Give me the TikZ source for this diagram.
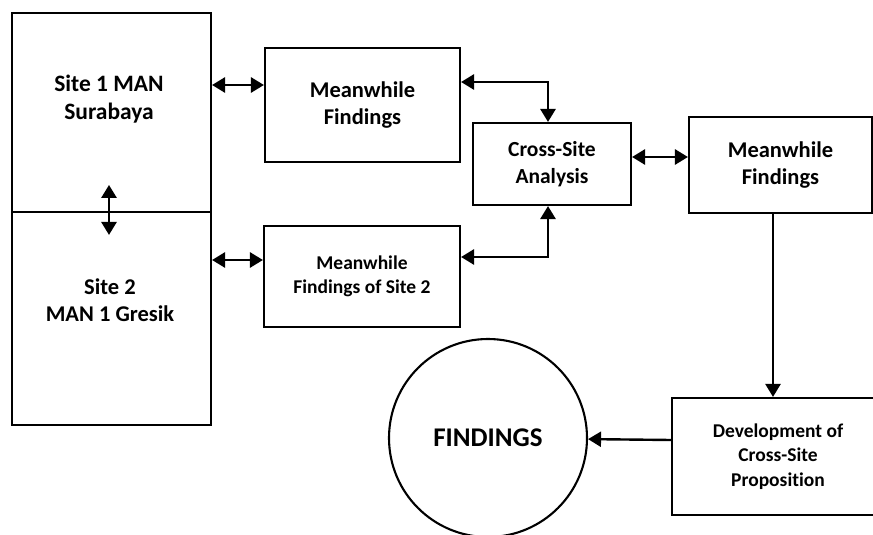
\documentclass[tikz,border=0pt]{standalone}
\usepackage{fontspec}
\setmainfont{Carlito}[Ligatures=NoCommon]
\usetikzlibrary{arrows.meta,calc}
\begin{document}
\begin{tikzpicture}[x=1pt,y=-1pt,
  box/.style={draw, line width=2.1pt, rectangle, inner sep=0pt, align=center},
  fbig/.style={font=\bfseries\fontsize{22.5}{27}\selectfont},
  fmid/.style={font=\bfseries\fontsize{21.5}{26.5}\selectfont},
  fsmall/.style={font=\bfseries\fontsize{19.5}{24.5}\selectfont},
  lbl/.style={align=center, inner sep=0pt},
  dbl/.style={line width=2.8pt, {Triangle[length=13pt,width=15pt]}-{Triangle[length=13pt,width=15pt]}},
  one/.style={line width=2.4pt, -{Triangle[length=13pt,width=15pt]}}]
\useasboundingbox (0,0) rectangle (873,535);
\clip (0,0) rectangle (873,535);
\fill[white] (0,0) rectangle (873,535);

\node[box, minimum width=199pt, minimum height=199pt] (site1) at (111.5,112.5) {};
\node[box, minimum width=199pt, minimum height=213pt] (site2) at (111.5,318.5) {};
\node[lbl, font=\bfseries\fontsize{23.5}{27.5}\selectfont] (t1) at (109,99) {Site 1 MAN\\Surabaya};
\node[lbl, fbig] (t2) at (110,300) {Site 2\\MAN 1 Gresik};

\node[box, fbig, minimum width=195pt, minimum height=114pt] (mf1) at (362.5,105) {Meanwhile\\Findings};
\node[box, fsmall, minimum width=196pt, minimum height=101pt] (mf2) at (362,276.5) {Meanwhile\\Findings of Site 2};
\node[box, fmid, minimum width=158pt, minimum height=82pt] (csa) at (552,164) {Cross-Site\\Analysis};
\node[box, fbig, minimum width=183pt, minimum height=96pt] (mf3) at (780.5,165) {Meanwhile\\Findings};
\node[box, fsmall, minimum width=212pt, minimum height=117pt] (dev) at (778,456.5) {Development of\\Cross-Site\\Proposition};
\node[draw, circle, line width=2.1pt, minimum size=198pt, inner sep=0pt,
      font=\bfseries\fontsize{27}{32}\selectfont] (fin) at (488,438) {FINDINGS};

\coordinate (a1) at ([yshift=20pt]mf1.west);
\draw[dbl] (site1.east |- a1) -- (a1);
\draw[dbl] ([xshift=-2.5pt,yshift=26pt]site2.north) -- ([xshift=-2.5pt,yshift=-24pt]site2.north);
\coordinate (a2) at ([yshift=16.5pt]mf2.west);
\draw[dbl] (site2.east |- a2) -- (a2);
\coordinate (a3) at ([yshift=23pt]mf1.east);
\draw[dbl] (a3) -| ([xshift=-4pt]csa.north);
\coordinate (a4) at ([yshift=19.5pt]mf2.east);
\draw[dbl] ([xshift=-4pt]csa.south) |- (a4);
\coordinate (a5) at ([yshift=7pt]csa.east);
\draw[dbl] (a5) -- (mf3.west |- a5);
\coordinate (a6) at ([xshift=-5pt]dev.north);
\draw[one] (mf3.south -| a6) -- (a6);
\coordinate (a7) at ([yshift=16.5pt]dev.west);
\draw[one] (a7) -- (fin);
\end{tikzpicture}
\end{document}
